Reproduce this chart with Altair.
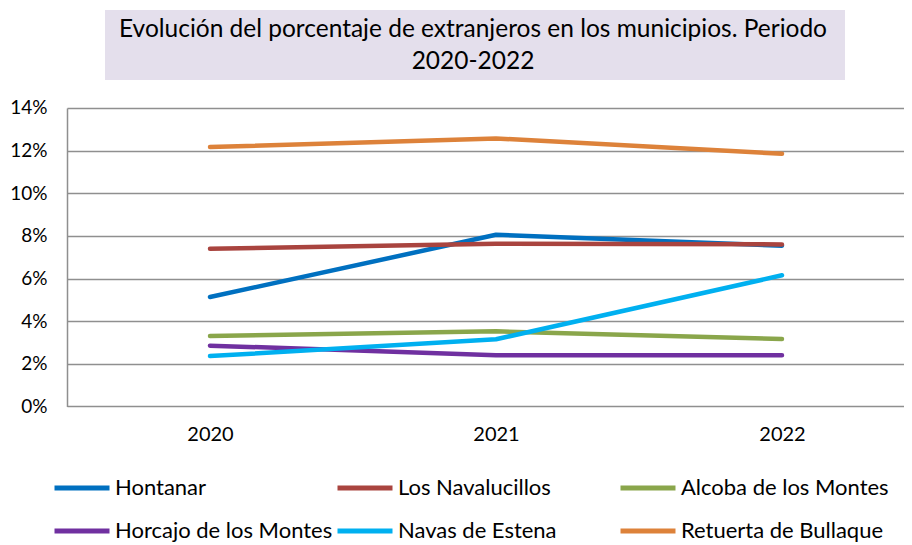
import altair as alt
import pandas as pd

years = ["2020", "2021", "2022"]
series = ["Hontanar", "Los Navalucillos", "Alcoba de los Montes",
          "Horcajo de los Montes", "Navas de Estena", "Retuerta de Bullaque"]
hontanar = [5.13, 8.05, 7.54]
navalucillos = [7.40, 7.63, 7.60]
alcoba = [3.30, 3.52, 3.16]
horcajo = [2.85, 2.40, 2.40]
navas = [2.36, 3.15, 6.15]
retuerta = [12.17, 12.57, 11.85]
colors = ["#0070C0", "#A9443F", "#8AA64B", "#7030A0", "#00B0F0", "#DD823A"]
y_ticks = [0, 0.02, 0.04, 0.06, 0.08, 0.10, 0.12, 0.14]
title_lines = ["Evolución del porcentaje de extranjeros en los municipios. Periodo",
               "2020-2022"]

values = [hontanar, navalucillos, alcoba, horcajo, navas, retuerta]
rows = []
for name, vals in zip(series, values):
    for yr, v in zip(years, vals):
        rows.append({"Municipio": name, "Año": yr, "valor": v / 100})
df = pd.DataFrame(rows)

FONT = "Lato"
GRID = "#8f8f8f"

box = alt.Chart(alt.Data(values=[{}])).mark_rect(color="#E4DFEC").encode(
    x=alt.value(38), x2=alt.value(778), y=alt.value(-98), y2=alt.value(-28)
)

title = alt.Chart(alt.Data(values=[{}])).mark_text(
    font=FONT, fontSize=24.5, color="#000000", lineHeight=32,
    align="center", baseline="middle"
).encode(x=alt.value(406), y=alt.value(-78), text=alt.value(title_lines))

lines = alt.Chart(df).mark_line(strokeWidth=4.5, strokeCap="round", strokeJoin="round").encode(
    x=alt.X("Año:O", sort=years,
            scale=alt.Scale(type="point", padding=0.5, range=[0, 858]),
            axis=alt.Axis(title=None, labelAngle=0, domain=False, ticks=False,
                          labelPadding=18, labelFont=FONT, labelFontSize=20,
                          labelColor="#000000", grid=False)),
    y=alt.Y("valor:Q", scale=alt.Scale(domain=[0, 0.14], nice=False),
            axis=alt.Axis(title=None, values=y_ticks, format=".0%", ticks=False,
                          domain=True, domainColor=GRID, domainWidth=1.5,
                          grid=True, gridColor=GRID, gridWidth=1.5,
                          labelPadding=20, labelFont=FONT, labelFontSize=19,
                          labelColor="#000000")),
    color=alt.Color("Municipio:N", sort=series,
                    scale=alt.Scale(domain=series, range=colors),
                    legend=alt.Legend(title=None, orient="none", legendX=-15, legendY=370,
                                      direction="horizontal",
                                      columns=3, gridAlign="all", columnPadding=2,
                                      rowPadding=21, symbolType="stroke",
                                      symbolSize=3025, symbolStrokeWidth=5,
                                      labelOffset=3, labelFont=FONT, labelFontSize=22,
                                      labelLimit=0, labelColor="#000000",
                                      padding=0, clipHeight=20)),
    order=alt.Order("Año:O"),
)

chart = alt.layer(box, title, lines).properties(
    width=837, height=298.4,
    padding={"left": 59, "top": 100, "right": 0, "bottom": 137},
    autosize=alt.AutoSizeParams(type="none"),
).configure_view(stroke=None)

chart.save("out.html", embed_options={"renderer": "svg", "actions": False})
